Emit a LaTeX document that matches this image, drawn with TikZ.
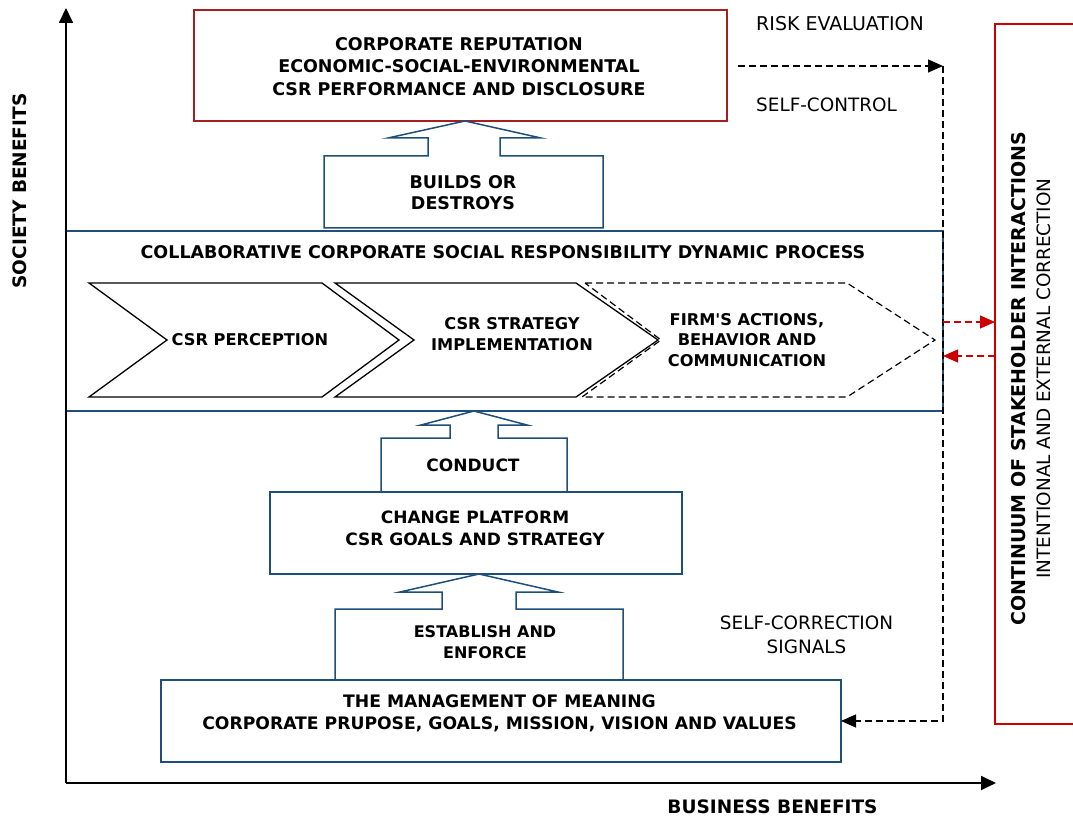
\documentclass[tikz,border=0pt]{standalone}
\usepackage{fontspec}
\setmainfont{DejaVu Sans}[Ligatures=TeXOff]
\usetikzlibrary{arrows.meta}
\definecolor{dblue}{HTML}{1F4E79}
\definecolor{dred}{HTML}{A32020}
\definecolor{bred}{HTML}{CC0000}
\tikzset{
  bt/.style={font=\bfseries\fontsize{16.2}{20.5}\selectfont, align=center, inner sep=0pt},
  btb/.style={font=\bfseries\fontsize{17}{22}\selectfont, align=center, inner sep=0pt},
  rt/.style={font=\fontsize{18.4}{24}\selectfont, align=center, inner sep=0pt},
  axl/.style={font=\bfseries\fontsize{18.5}{22}\selectfont, inner sep=0pt},
  bluebox/.style={draw=dblue, line width=1.5pt, inner sep=0pt, outer sep=0pt},
  blockarrow/.style={draw=dblue, line width=1.5pt, line join=miter},
  chev/.style={draw=black, line width=1.3pt, line join=miter},
  dsh/.style={dash pattern=on 7pt off 4pt, line width=1.3pt},
  tipA/.style={-{Triangle[length=15pt,width=14pt]}},
  tipB/.style={-{Triangle[length=15pt,width=13pt]}},
}
\begin{document}
\begin{tikzpicture}[x=1pt,y=-1pt]
\useasboundingbox (0,0) rectangle (1073,818);

% process box
\node[bluebox, minimum width=877pt, minimum height=180pt] (proc) at (504.5,321) {};
\node[btb, font=\bfseries\fontsize{17.5}{22}\selectfont] (procT) at (503,252) {COLLABORATIVE CORPORATE SOCIAL RESPONSIBILITY DYNAMIC PROCESS};

% chevrons
\draw[chev] (89,283) -- (322,283) -- (399,340) -- (322,397) -- (89,397) -- (167,340) -- cycle;
\draw[chev] (335,283) -- (576,283) -- (658,340) -- (576,397) -- (335,397) -- (414,340) -- cycle;
\draw[chev, dsh, line width=1.2pt] (585,283) -- (847,283) -- (935,340) -- (847,397) -- (582,397) -- (661,340) -- cycle;
\node[bt] (perc) at (250,340) {CSR PERCEPTION};
\node[bt] (impl) at (512,334) {CSR STRATEGY\\IMPLEMENTATION};
\node[bt] (firm) at (747,340) {FIRM'S ACTIONS,\\BEHAVIOR AND\\COMMUNICATION};

% top red box
\node[draw=dred, line width=1.5pt, minimum width=533pt, minimum height=111pt, inner sep=0pt] (rep) at (460.5,65.5) {};
\node[btb, font=\bfseries\fontsize{17.5}{22.5}\selectfont] (repT) at (459,66.5) {CORPORATE REPUTATION\\ECONOMIC-SOCIAL-ENVIRONMENTAL\\CSR PERFORMANCE AND DISCLOSURE};

% builds or destroys block arrow
\draw[blockarrow] (324,228) -- (324,156) -- (428,156) -- (428,138) -- (388,138) -- (465,121) -- (541,138) -- (500,138) -- (500,156) -- (603,156) -- (603,228) -- cycle;
\node[btb, font=\bfseries\fontsize{17.5}{21}\selectfont] (builds) at (463,192.5) {BUILDS OR\\DESTROYS};

% conduct block arrow
\draw[blockarrow] (381,492) -- (381,438) -- (450,438) -- (450,425) -- (421,425) -- (474,411) -- (527,425) -- (498,425) -- (498,438) -- (567,438) -- (567,492);
\node[btb] (conduct) at (473,465) {CONDUCT};

% change platform
\node[bluebox, minimum width=412pt, minimum height=82pt] (plat) at (476,533) {};
\node[btb] (platT) at (475,528) {CHANGE PLATFORM\\CSR GOALS AND STRATEGY};

% establish block arrow
\draw[blockarrow] (335,680) -- (335,609) -- (442,609) -- (442,592) -- (400,592) -- (479,574) -- (558,592) -- (516,592) -- (516,609) -- (623,609) -- (623,680);
\node[bt, font=\bfseries\fontsize{16}{21}\selectfont] (estab) at (485,642.5) {ESTABLISH AND\\ENFORCE};

% management box
\node[bluebox, minimum width=680pt, minimum height=82pt] (mgmt) at (501,721) {};
\node[btb, font=\bfseries\fontsize{17.2}{22}\selectfont] (mgmtT) at (499.5,713) {THE MANAGEMENT OF MEANING\\CORPORATE PRUPOSE, GOALS, MISSION, VISION AND VALUES};

% right red box
\draw[bred, line width=1.5pt] (1075,24) -- (995,24) -- (995,724) -- (1075,724);
\node[axl, font=\bfseries\fontsize{19}{22}\selectfont, rotate=90] (cont) at (1019,379) {CONTINUUM OF STAKEHOLDER INTERACTIONS};
\node[rt, rotate=90] (intent) at (1044,378.5) {INTENTIONAL AND EXTERNAL CORRECTION};

% side labels
\node[rt, font=\fontsize{19}{24}\selectfont, anchor=west] (risk) at (756,24) {RISK EVALUATION};
\node[rt, anchor=west] (selfc) at (756,105) {SELF-CONTROL};
\node[rt] (selfcorr) at (806.5,635) {SELF-CORRECTION\\SIGNALS};

% dashed feedback loop
\coordinate (s1) at (738,66);
\coordinate (c1) at (943,66);
\coordinate (c2) at (943,721);
\draw[dsh, tipB] (s1) -- (c1);
\draw[dsh, tipB] (c1) -- (c2) -- (mgmt.east |- c2);

% red dashed arrows
\coordinate (r1) at (943,322);
\coordinate (r2) at (995,356);
\draw[dsh, bred, tipB] (r1) -- (r1 -| r2);
\draw[dsh, bred, tipB] (r2) -- (proc.east |- r2);

% axes
\coordinate (o) at (66,783);
\coordinate (ytop) at (66,8);
\coordinate (xend) at (996,783);
\draw[line width=1.8pt, tipA] (o) -- (ytop);
\draw[line width=1.8pt, tipA] (o) -- (xend);
\node[axl] (soc) [rotate=90] at (20,191) {SOCIETY BENEFITS};
\node[axl] (bus) at (772.5,806.5) {BUSINESS BENEFITS};
\end{tikzpicture}
\end{document}
